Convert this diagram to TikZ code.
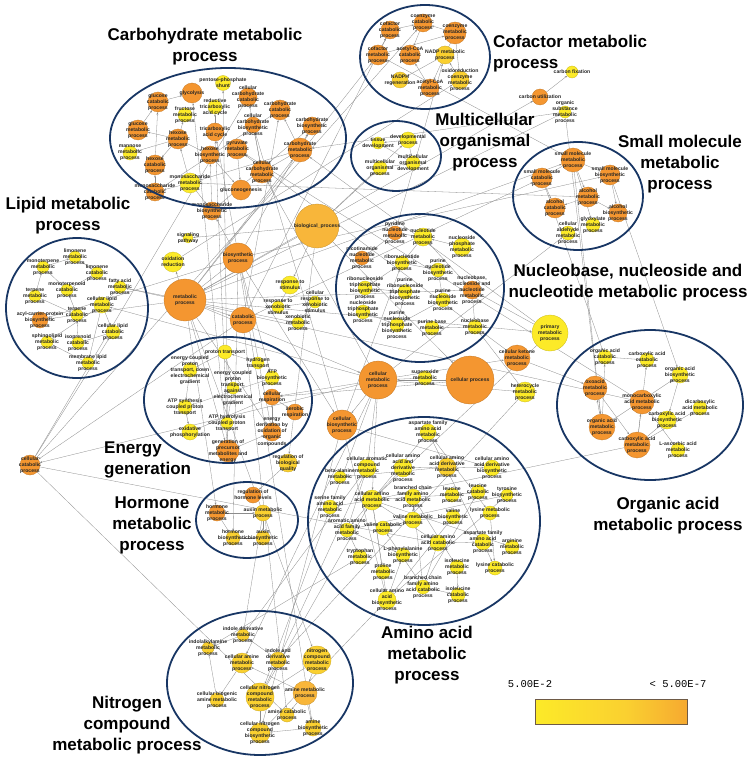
\documentclass[tikz,border=0pt]{standalone}
\usepackage{fontspec}
\setmainfont{Liberation Sans}
\newfontfamily\monofont{Liberation Mono}
\usetikzlibrary{arrows.meta, backgrounds}

\definecolor{goY}{RGB}{252, 234, 40}
\definecolor{goL}{RGB}{250, 208, 48}
\definecolor{goM}{RGB}{248, 182, 58}
\definecolor{goO}{RGB}{244, 150, 48}
\definecolor{clusterblue}{RGB}{24, 54, 100}
\definecolor{barframe}{RGB}{110, 90, 70}
\pgfdeclarehorizontalshading{heatbar}{100bp}{color(0bp)=(goY); color(25bp)=(goY); color(55bp)=(goL); color(85bp)=(goO); color(100bp)=(goO)}

\tikzset{
  term/.style={circle, inner sep=0pt, minimum size=#1pt, line width=0.3pt},
  termtext/.style={font=\fontsize{5.1}{6.1}\selectfont\bfseries, text=black!85, align=center, inner sep=0pt},
  cluster/.style={draw=clusterblue, line width=1.8pt},
  clustertitle/.style={font=\fontsize{17}{21}\selectfont\bfseries, inner sep=0pt},
  link/.style={draw=black!45, line width=0.3pt, -{Stealth[length=2.4pt, width=1.8pt]}},
}

\begin{document}
\begin{tikzpicture}[x=1pt, y=-1pt]
    \useasboundingbox (0,0) rectangle (750,759);

    % GO terms: name/x/y/diameter/colour/label
    % Carbohydrate metabolic process
    \foreach \n/\x/\y/\d/\c/\t in {
        pps/223/83/15/goY/{pentose-phosphate\\shunt},
        glyc/192/93/20/goO/{glycolysis},
        glccat/158/102/20/goO/{glucose\\catabolic\\process},
        cchcat/248/97/18/goO/{cellular\\carbohydrate\\catabolic\\process},
        fru/185/115/14/goY/{fructose\\metabolic\\process},
        rtca/215/107/14/goY/{reductive\\tricarboxylic\\acid cycle},
        chcat/280/110/20/goO/{carbohydrate\\catabolic\\process},
        glcmet/138/130/20/goO/{glucose\\metabolic\\process},
        hexmet/178/139/20/goO/{hexose\\metabolic\\process},
        tca/215/132/18/goO/{tricarboxylic\\acid cycle},
        cchbio/253/125/16/goO/{cellular\\carbohydrate\\biosynthetic\\process},
        chbio/312/126/18/goO/{carbohydrate\\biosynthetic\\process},
        chmet/300/150/24/goO/{carbohydrate\\metabolic\\process},
        man/130/153/14/goY/{mannose\\metabolic\\process},
        hexbio/210/155/18/goO/{hexose\\biosynthetic\\process},
        pyr/237/149/20/goO/{pyruvate\\metabolic\\process},
        hexcat/155/165/20/goO/{hexose\\catabolic\\process},
        cchmet/262/172/22/goO/{cellular\\carbohydrate\\metabolic\\process},
        msmet/190/183/20/goY/{monosaccharide\\metabolic\\process},
        gng/241/190/20/goO/{gluconeogenesis},
        mscat/155/192/18/goO/{monosaccharide\\catabolic\\process},
        msbio/212/211/18/goO/{monosaccharide\\biosynthetic\\process}} {
        \node[term=\d, fill=\c, draw=\c!80!black] (\n) at (\x,\y) {};
        \node[termtext] at (\n.center) {\t};
    }

    % Cofactor metabolic process, carbon terms
    \foreach \n/\x/\y/\d/\c/\t in {
        coecat/423/23/18/goO/{coenzyme\\catabolic\\process},
        cofcat/390/30/18/goO/{cofactor\\catabolic\\process},
        coemet/455/33/22/goO/{coenzyme\\metabolic\\process},
        cofmet/378/55/20/goO/{cofactor\\metabolic\\process},
        accat/410/55/20/goO/{acetyl-CoA\\catabolic\\process},
        nadp/445/55/18/goL/{NADP metabolic\\process},
        oxcoe/460/80/18/goL/{oxidoreduction\\coenzyme\\metabolic\\process},
        nadph/400/80/16/goL/{NADPH\\regeneration},
        acmet/430/88/18/goO/{acetyl-CoA\\metabolic\\process},
        carbfix/572/72/12/goY/{carbon fixation},
        carbutil/540/97/16/goO/{carbon utilization},
        orgsub/565/112/12/goY/{organic\\substance\\metabolic\\process}} {
        \node[term=\d, fill=\c, draw=\c!80!black] (\n) at (\x,\y) {};
        \node[termtext] at (\n.center) {\t};
    }

    % Multicellular organismal process, small molecule metabolic process
    \foreach \n/\x/\y/\d/\c/\t in {
        tissue/378/143/12/goY/{tissue\\development},
        devproc/408/140/16/goY/{developmental\\process},
        mcorg/380/168/14/goY/{multicellular\\organismal\\process},
        mcdev/413/163/14/goY/{multicellular\\organismal\\development},
        smmet/573/160/24/goO/{small molecule\\metabolic\\process},
        smbio/610/175/20/goO/{small molecule\\biosynthetic\\process},
        smcat/542/178/20/goO/{small molecule\\catabolic\\process},
        alcmet/588/197/20/goO/{alcohol\\metabolic\\process},
        alccat/555/208/20/goO/{alcohol\\catabolic\\process},
        alcbio/618/213/18/goO/{alcohol\\biosynthetic\\process},
        glyox/593/225/14/goY/{glyoxylate\\metabolic\\process},
        ald/568/233/14/goY/{cellular\\aldehyde\\metabolic\\process}} {
        \node[term=\d, fill=\c, draw=\c!80!black] (\n) at (\x,\y) {};
        \node[termtext] at (\n.center) {\t};
    }

    % Lipid metabolic process
    \foreach \n/\x/\y/\d/\c/\t in {
        limmet/75/257/12/goY/{limonene\\metabolic\\process},
        monomet/43/267/12/goY/{monoterpene\\metabolic\\process},
        limcat/97/273/12/goY/{limonene\\catabolic\\process},
        monocat/67/290/12/goY/{monoterpenoid\\catabolic\\process},
        fatty/120/287/12/goY/{fatty acid\\metabolic\\process},
        terpmet/35/296/12/goY/{terpene\\metabolic\\process},
        cellip/102/305/16/goY/{cellular lipid\\metabolic\\process},
        terpcat/77/315/12/goY/{terpene\\catabolic\\process},
        acp/40/320/16/goO/{acyl-carrier-protein\\biosynthetic\\process},
        lipcat/113/332/14/goY/{cellular lipid\\catabolic\\process},
        sphing/47/342/12/goY/{sphingolipid\\metabolic\\process},
        isocat/78/343/12/goY/{isoprenoid\\catabolic\\process},
        memlip/88/363/12/goY/{membrane lipid\\metabolic\\process}} {
        \node[term=\d, fill=\c, draw=\c!80!black] (\n) at (\x,\y) {};
        \node[termtext] at (\n.center) {\t};
    }

    % Hub terms
    \foreach \n/\x/\y/\d/\c/\t in {
        signal/188/238/10/goY/{signaling\\pathway},
        oxred/173/262/20/goY/{oxidation\\reduction},
        bioproc/238/258/30/goO/{biosynthetic\\process},
        metproc/185/300/42/goO/{metabolic\\process},
        biol/317/226/44/goM/{biological\_process},
        resp/290/285/18/goY/{response to\\stimulus},
        respx/278/307/12/goY/{response to\\xenobiotic\\stimulus},
        cresx/315/302/12/goY/{cellular\\response to\\xenobiotic\\stimulus},
        xeno/298/323/12/goY/{xenobiotic\\metabolic\\process},
        catproc/243/320/26/goO/{catabolic\\process},
        cellmet/378/380/38/goO/{cellular\\metabolic\\process},
        cellbio/342/425/30/goO/{cellular\\biosynthetic\\process},
        cellcat/30/465/20/goO/{cellular\\catabolic\\process},
        primary/550/333/36/goY/{primary\\metabolic\\process},
        ketone/517/358/26/goO/{cellular ketone\\metabolic\\process},
        superox/425/378/14/goY/{superoxide\\metabolic\\process},
        cellproc/470/380/48/goO/{cellular process},
        hetero/525/392/20/goY/{heterocycle\\metabolic\\process}} {
        \node[term=\d, fill=\c, draw=\c!80!black] (\n) at (\x,\y) {};
        \node[termtext] at (\n.center) {\t};
    }

    % Energy generation
    \foreach \n/\x/\y/\d/\c/\t in {
        proton/225/352/14/goY/{proton transport},
        ecpdown/190/370/14/goY/{energy coupled\\proton\\transport, down\\electrochemical\\gradient},
        hydrogen/258/363/12/goY/{hydrogen\\transport},
        atpbio/272/378/14/goY/{ATP\\biosynthetic\\process},
        ecpag/233/388/12/goY/{energy coupled\\proton\\transport,\\against\\electrochemical\\gradient},
        crespi/272/397/16/goO/{cellular\\respiration},
        atpsyn/185/407/14/goY/{ATP synthesis\\coupled proton\\transport},
        aerob/295/412/16/goO/{aerobic\\respiration},
        atphyd/227/423/12/goY/{ATP hydrolysis\\coupled proton\\transport},
        energy/272/432/18/goO/{energy\\derivation by\\oxidation of\\organic\\compounds},
        oxphos/190/432/16/goY/{oxidative\\phosphorylation},
        genprec/228/451/22/goO/{generation of\\precursor\\metabolites and\\energy}} {
        \node[term=\d, fill=\c, draw=\c!80!black] (\n) at (\x,\y) {};
        \node[termtext] at (\n.center) {\t};
    }

    % Nucleobase, nucleoside and nucleotide metabolic process
    \foreach \n/\x/\y/\d/\c/\t in {
        pyrnuc/395/233/14/goO/{pyridine\\nucleotide\\metabolic\\process},
        nucmet/423/237/18/goY/{nucleotide\\metabolic\\process},
        nucphos/462/247/18/goY/{nucleoside\\phosphate\\metabolic\\process},
        nicot/362/258/14/goO/{nicotinamide\\nucleotide\\metabolic\\process},
        ribobio/402/263/14/goY/{ribonucleotide\\biosynthetic\\process},
        purnucbio/438/270/14/goY/{purine\\nucleotide\\biosynthetic\\process},
        ribotri/365/288/14/goY/{ribonucleoside\\triphosphate\\biosynthetic\\process},
        purribotri/405/292/14/goY/{purine\\ribonucleoside\\triphosphate\\biosynthetic\\process},
        nbnn/472/290/18/goO/{nucleobase,\\nucleoside and\\nucleotide\\metabolic\\process},
        purnsbio/443/300/14/goY/{purine\\nucleoside\\biosynthetic\\process},
        nstri/363/312/14/goY/{nucleoside\\triphosphate\\biosynthetic\\process},
        purnstri/397/325/14/goY/{purine\\nucleoside\\triphosphate\\biosynthetic\\process},
        purbase/432/328/14/goY/{purine base\\metabolic\\process},
        nbmet/475/327/14/goY/{nucleobase\\metabolic\\process}} {
        \node[term=\d, fill=\c, draw=\c!80!black] (\n) at (\x,\y) {};
        \node[termtext] at (\n.center) {\t};
    }

    % Organic acid metabolic process
    \foreach \n/\x/\y/\d/\c/\t in {
        oacat/605/357/14/goY/{organic acid\\catabolic\\process},
        cacat/647/360/14/goY/{carboxylic acid\\catabolic\\process},
        oabio/680/375/16/goY/{organic acid\\biosynthetic\\process},
        oxo/595/388/24/goO/{oxoacid\\metabolic\\process},
        monocarb/642/402/24/goO/{monocarboxylic\\acid metabolic\\process},
        dicarb/700/408/14/goY/{dicarboxylic\\acid metabolic\\process},
        cabio/667/420/18/goY/{carboxylic acid\\biosynthetic\\process},
        oamet/602/427/26/goO/{organic acid\\metabolic\\process},
        camet/637/445/26/goO/{carboxylic acid\\metabolic\\process},
        ascorb/678/450/14/goY/{L-ascorbic acid\\metabolic\\process}} {
        \node[term=\d, fill=\c, draw=\c!80!black] (\n) at (\x,\y) {};
        \node[termtext] at (\n.center) {\t};
    }

    % Amino acid metabolic process
    \foreach \n/\x/\y/\d/\c/\t in {
        aspmet/428/432/16/goY/{aspartate family\\amino acid\\metabolic\\process},
        aromc/367/468/18/goY/{cellular aromatic\\compound\\metabolic\\process},
        aader/403/468/18/goY/{cellular amino\\acid and\\derivative\\metabolic\\process},
        aadmet/447/467/18/goL/{cellular amino\\acid derivative\\metabolic\\process},
        aadbio/492/468/16/goY/{cellular amino\\acid derivative\\biosynthetic\\process},
        betaala/340/477/12/goY/{beta-alanine\\metabolic\\process},
        bcmet/413/497/16/goY/{branched chain\\family amino\\acid metabolic\\process},
        leumet/452/495/14/goY/{leucine\\metabolic\\process},
        leucat/478/492/14/goY/{leucine\\catabolic\\process},
        tyrbio/507/495/12/goY/{tyrosine\\biosynthetic\\process},
        aamet/372/500/20/goY/{cellular amino\\acid metabolic\\process},
        sermet/330/507/14/goY/{serine family\\amino acid\\metabolic\\process},
        valmet/413/520/16/goY/{valine metabolic\\process},
        valbio/453/517/14/goY/{valine\\biosynthetic\\process},
        lysmet/490/513/14/goY/{lysine metabolic\\process},
        aromaa/347/530/14/goY/{aromatic amino\\acid family\\metabolic\\process},
        valcat/383/528/14/goY/{valine catabolic\\process},
        aspcat/483/542/16/goY/{aspartate family\\amino acid\\catabolic\\process},
        aacat/438/543/16/goY/{cellular amino\\acid catabolic\\process},
        argmet/512/547/14/goY/{arginine\\metabolic\\process},
        phebio/403/555/14/goY/{L-phenylalanine\\biosynthetic\\process},
        trpmet/360/557/14/goY/{tryptophan\\metabolic\\process},
        ilemet/457/567/14/goY/{isoleucine\\metabolic\\process},
        lyscat/495/568/14/goY/{lysine catabolic\\process},
        promet/383/572/14/goY/{proline\\metabolic\\process},
        bccat/423/587/14/goY/{branched chain\\family amino\\acid catabolic\\process},
        aabio/387/600/18/goY/{cellular amino\\acid\\biosynthetic\\process},
        ilecat/458/595/14/goY/{isoleucine\\catabolic\\process}} {
        \node[term=\d, fill=\c, draw=\c!80!black] (\n) at (\x,\y) {};
        \node[termtext] at (\n.center) {\t};
    }

    % Hormone metabolic process, nitrogen compound metabolic process
    \foreach \n/\x/\y/\d/\c/\t in {
        regbio/288/463/18/goL/{regulation of\\biological\\quality},
        reghorm/253/495/16/goO/{regulation of\\hormone levels},
        hormmet/217/513/16/goO/{hormone\\metabolic\\process},
        auxmet/263/513/16/goL/{auxin metabolic\\process},
        hormbio/233/538/14/goL/{hormone\\biosynthetic\\process},
        auxbio/263/538/14/goL/{auxin\\biosynthetic\\process},
        indder/243/635/12/goL/{indole derivative\\metabolic\\process},
        indalk/208/648/12/goL/{indolalkylamine\\metabolic\\process},
        amine/242/663/20/goL/{cellular amine\\metabolic\\process},
        indand/278/660/16/goL/{indole and\\derivative\\metabolic\\process},
        nitmet/317/660/28/goL/{nitrogen\\compound\\metabolic\\process},
        biogen/217/700/14/goL/{cellular biogenic\\amine metabolic\\process},
        cnmet/260/697/28/goL/{cellular nitrogen\\compound\\metabolic\\process},
        aminmet/305/693/24/goM/{amine metabolic\\process},
        amincat/287/715/14/goL/{amine catabolic\\process},
        aminbio/313/728/16/goL/{amine\\biosynthetic\\process},
        cnbio/260/733/20/goL/{cellular nitrogen\\compound\\biosynthetic\\process}} {
        \node[term=\d, fill=\c, draw=\c!80!black] (\n) at (\x,\y) {};
        \node[termtext] at (\n.center) {\t};
    }

    % is-a links, parent to child
    \begin{pgfonlayer}{background}
    \fill[white] (0,0) rectangle (750,759);
    \foreach \a/\b in {
        biol/metproc, biol/cellproc, biol/resp, biol/mcorg, biol/devproc, biol/regbio, biol/signal,
        metproc/bioproc, metproc/catproc, metproc/cellmet, metproc/primary, metproc/oxred,
        metproc/smmet, metproc/nbnn, metproc/cofmet, metproc/chmet, metproc/xeno, metproc/energy,
        metproc/genprec, metproc/nitmet, metproc/hormmet, metproc/carbutil, metproc/orgsub,
        metproc/fatty, metproc/acp,
        cellproc/cellmet, cellproc/crespi,
        cellmet/cellbio, cellmet/cellcat, cellmet/cchmet, cellmet/cellip, cellmet/ketone,
        cellmet/cnmet, cellmet/superox, cellmet/ald, cellmet/crespi, cellmet/amine, cellmet/aromc,
        cellmet/aamet, cellmet/hetero,
        primary/chmet, primary/aamet, primary/nbnn, orgsub/oamet, orgsub/chmet,
        bioproc/cellbio, bioproc/chbio, bioproc/smbio, bioproc/aminbio, bioproc/hormbio,
        bioproc/atpbio, bioproc/acp, bioproc/msbio,
        catproc/cellcat, catproc/chcat, catproc/smcat, catproc/amincat, catproc/cofcat,
        cellbio/aabio, cellbio/cnbio, cellbio/cchbio, cellbio/aadbio, cellbio/ribobio,
        cellcat/aacat, cellcat/cchcat, cellcat/lipcat, cellcat/coecat, cellcat/amincat,
        ketone/oxo, ketone/pyr,
        smmet/smbio, smmet/smcat, smmet/alcmet, smmet/glyox, smmet/oamet, smmet/cofmet,
        smbio/alcbio, smbio/oabio, smcat/alccat, smcat/oacat,
        alcmet/alccat, alcmet/alcbio, alcmet/msmet,
        chmet/cchmet, chmet/chcat, chmet/chbio, chmet/msmet,
        cchmet/cchcat, cchmet/cchbio, chcat/mscat, chbio/msbio,
        msmet/hexmet, msmet/mscat, msmet/msbio,
        hexmet/glcmet, hexmet/hexcat, hexmet/hexbio, hexmet/man, hexmet/fru,
        glcmet/glccat, hexcat/glccat, mscat/hexcat, msbio/hexbio, hexbio/gng, pyr/gng,
        glccat/glyc, genprec/glyc, genprec/pps, genprec/tca, genprec/energy, energy/tca, tca/rtca,
        cofmet/coemet, cofmet/cofcat, cofcat/coecat, coemet/coecat, coemet/acmet, coemet/oxcoe,
        acmet/accat, coecat/accat, oxcoe/nadp, nadp/nadph, pyrnuc/nadp, oxred/oxcoe,
        carbutil/carbfix,
        devproc/mcdev, mcorg/mcdev, devproc/tissue, mcdev/tissue,
        cellip/lipcat, cellip/memlip, cellip/fatty, cellip/sphing,
        terpmet/monomet, terpmet/terpcat, monomet/limmet, monomet/monocat, limmet/limcat,
        monocat/limcat, terpcat/monocat, isocat/terpcat, lipcat/isocat, memlip/sphing,
        hydrogen/proton, proton/ecpdown, proton/ecpag, ecpdown/atpsyn, ecpag/atphyd,
        atpsyn/oxphos, crespi/aerob, energy/crespi, crespi/oxphos, atpbio/atpsyn,
        nbnn/nucmet, nbnn/nbmet, nucphos/nucmet, nucmet/pyrnuc, pyrnuc/nicot, nucmet/ribobio,
        ribobio/purnucbio, purnucbio/purnsbio, nstri/ribotri, nstri/purnstri,
        ribotri/purribotri, purnstri/purribotri, purnsbio/purnstri, nbmet/purbase, ribobio/ribotri,
        oamet/oxo, oxo/camet, camet/monocarb, camet/cabio, camet/cacat, oamet/oacat, oamet/oabio,
        oabio/cabio, oacat/cacat, monocarb/ascorb, camet/dicarb, camet/aamet, monocarb/fatty,
        monocarb/pyr,
        aader/aamet, aader/aadmet, aadmet/aadbio, aadmet/betaala, aamet/sermet, aamet/aromaa,
        aamet/bcmet, aamet/aspmet, aamet/promet, aamet/aacat, aamet/aabio, aamet/argmet,
        aspmet/lysmet, aspmet/aspcat, bcmet/leumet, bcmet/valmet, bcmet/ilemet, bcmet/bccat,
        leumet/leucat, valmet/valbio, valmet/valcat, ilemet/ilecat, bccat/ilecat, bccat/valcat,
        bccat/leucat, aacat/bccat, aacat/aspcat, aspcat/lyscat, lysmet/lyscat, aromaa/trpmet,
        aromaa/phebio, aromaa/tyrbio, aabio/valbio, aabio/phebio, aabio/tyrbio, aromc/aromaa,
        aromc/indder, aromc/indand, hetero/indand, hetero/nbmet,
        regbio/reghorm, hormmet/hormbio, hormmet/auxmet, auxmet/auxbio, hormbio/auxbio,
        nitmet/cnmet, nitmet/aminmet, cnmet/cnbio, cnmet/indand, aminmet/amine, aminmet/amincat,
        aminmet/aminbio, amine/biogen, biogen/indalk, indder/indalk, indand/indder,
        aminbio/cnbio, trpmet/indalk, auxmet/indder, cnbio/aabio, cnmet/aamet,
        resp/respx, respx/cresx, cresx/xeno} {
        \draw[link] (\a) -- (\b);
    }
    \end{pgfonlayer}

    % Cluster outlines
    \draw[cluster] (228,138) ellipse [x radius=118pt, y radius=70pt];
    \draw[cluster] (425,57) ellipse [x radius=65pt, y radius=52pt];
    \draw[cluster] (396,156) ellipse [x radius=45pt, y radius=35pt];
    \draw[cluster] (578,196) ellipse [x radius=65pt, y radius=54pt];
    \draw[cluster] (77,308) ellipse [x radius=71pt, y radius=70pt];
    \draw[cluster] (420,288) ellipse [x radius=84pt, y radius=74pt];
    \draw[cluster] (228,400) ellipse [x radius=84pt, y radius=63pt];
    \draw[cluster] (650,405) ellipse [x radius=93pt, y radius=75pt];
    \draw[cluster] (424,521) ellipse [x radius=116pt, y radius=104pt];
    \draw[cluster] (247,520) ellipse [x radius=51pt, y radius=38pt];
    \draw[cluster] (260,683) ellipse [x radius=93pt, y radius=72pt];

    % Cluster titles
    \node[clustertitle, align=center] (tcarb) at (205,47) {Carbohydrate metabolic\\process};
    \node[clustertitle, align=left, anchor=west] (tcof) at (493,54) {Cofactor metabolic\\process};
    \node[clustertitle, align=center] (tmulti) at (485,142) {Multicellular\\organismal\\process};
    \node[clustertitle, align=center] (tsmall) at (680,164) {Small molecule\\metabolic\\process};
    \node[clustertitle, align=center] (tlipid) at (68,216) {Lipid metabolic\\process};
    \node[clustertitle, align=center] (tnuc) at (628,283) {Nucleobase, nucleoside and\\nucleotide metabolic process};
    \node[clustertitle, align=left, anchor=west] (tenergy) at (104,460) {Energy\\generation};
    \node[clustertitle, align=center] (torg) at (668,516) {Organic acid\\metabolic process};
    \node[clustertitle, align=center] (thorm) at (152,525) {Hormone\\metabolic\\process};
    \node[clustertitle, align=center] (tamino) at (427,655) {Amino acid\\metabolic\\process};
    \node[clustertitle, align=center] (tnitro) at (127,725) {Nitrogen\\compound\\metabolic process};

    % Colour scale
    \node[draw=barframe, line width=0.8pt, shading=heatbar, minimum width=152pt,
          minimum height=25pt, inner sep=0pt] (cbar) at (611,712) {};
    \node[font=\monofont\fontsize{10.5}{12}\selectfont] (cbarlo) at (530,684) {5.00E-2};
    \node[font=\monofont\fontsize{10.5}{12}\selectfont] (cbarhi) at (678,684) {< 5.00E-7};
\end{tikzpicture}
\end{document}
